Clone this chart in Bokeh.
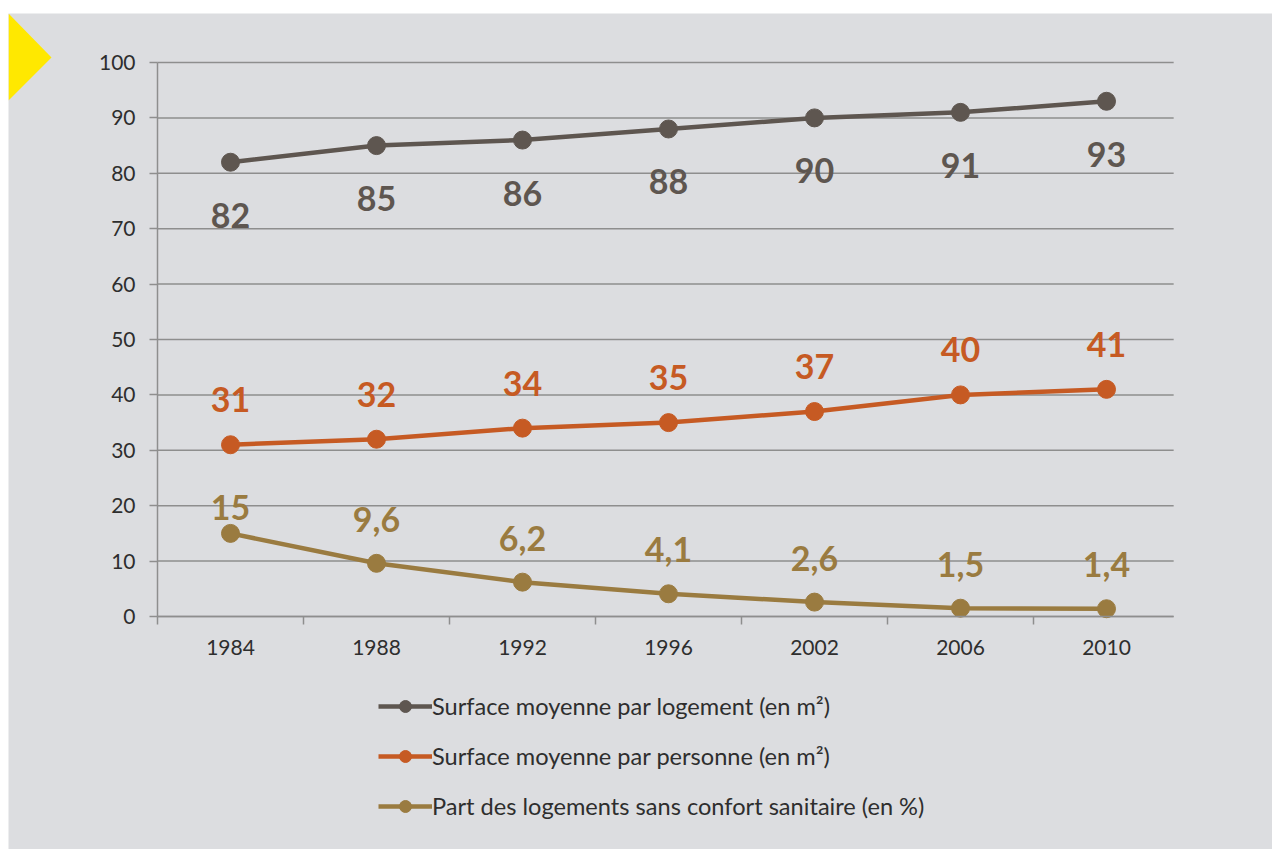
from bokeh.plotting import figure
from bokeh.models import (FixedTicker, Legend, LegendItem, PolyAnnotation, Spacer,
                          ColumnDataSource, Range1d)
from bokeh.layouts import column, row
from bokeh.core.properties import value
from bokeh.embed import file_html
from bokeh.resources import INLINE

years = ["1984", "1988", "1992", "1996", "2002", "2006", "2010"]
surface_logement = [82, 85, 86, 88, 90, 91, 93]
surface_personne = [31, 32, 34, 35, 37, 40, 41]
sans_confort = [15, 9.6, 6.2, 4.1, 2.6, 1.5, 1.4]
series_names = ["Surface moyenne par logement (en m²)",
                "Surface moyenne par personne (en m²)",
                "Part des logements sans confort sanitaire (en %)"]
y_ticks = list(range(0, 101, 10))

colors = ["#5e5650", "#c65a23", "#9a7b40"]
BG = "#dcdde0"
GRID = "#8e8e8e"
FONT = "Lato"
TXT = "#2e2e2e"

def fmt(v):
    return ("%g" % v).replace(".", ",")

# layout geometry (pixels inside the plot canvas)
W, H = 1264, 836
AX_LEFT_PX = 149      # x of first category boundary
CAT_PX = 146          # width of one category
Y100_PX = 49          # y (from top) of value 100
Y0_PX = 603           # y (from top) of value 0
PX_PER_UNIT = (Y0_PX - Y100_PX) / 100.0
n = len(years)
x_start = -AX_LEFT_PX / CAT_PX
x_end = (W - AX_LEFT_PX) / CAT_PX
y_end = 100 + Y100_PX / PX_PER_UNIT
y_start = -(H - Y0_PX) / PX_PER_UNIT
x_stop = n - 0.04     # right end of the plot area lines

xs = [i + 0.5 for i in range(n)]

p = figure(width=W, height=H, output_backend="svg", toolbar_location=None,
           x_range=Range1d(x_start, x_end), y_range=Range1d(y_start, y_end),
           min_border=0)
p.background_fill_color = BG
p.border_fill_color = BG
p.outline_line_color = None

# axes fixed inside the frame
p.xaxis.fixed_location = 0
p.xaxis.bounds = (0, x_stop)
p.xaxis.ticker = FixedTicker(ticks=xs, minor_ticks=list(range(n)))
p.xaxis.major_label_overrides = {x: y for x, y in zip(xs, years)}
p.xaxis.major_tick_out = 0
p.xaxis.major_tick_in = 0
p.xaxis.minor_tick_out = 8
p.xaxis.minor_tick_in = 0
p.xaxis.minor_tick_line_color = GRID
p.xaxis.minor_tick_line_width = 1.5
p.xaxis.axis_line_color = GRID
p.xaxis.axis_line_width = 1.5
p.xaxis.major_label_standoff = 15

p.yaxis.fixed_location = 0
p.yaxis.bounds = (0, 100)
p.yaxis.ticker = FixedTicker(ticks=y_ticks)
p.yaxis.major_tick_out = 8
p.yaxis.major_tick_in = 0
p.yaxis.minor_tick_line_color = None
p.yaxis.major_tick_line_color = GRID
p.yaxis.major_tick_line_width = 1.5
p.yaxis.axis_line_color = GRID
p.yaxis.axis_line_width = 1.5
p.yaxis.major_label_standoff = 14
for ax in (p.xaxis, p.yaxis):
    ax.major_label_text_font = FONT
    ax.major_label_text_font_size = "21px"
    ax.major_label_text_color = TXT

p.xgrid.grid_line_color = None
p.ygrid.grid_line_color = None

# horizontal gridlines limited to the plot area
p.segment(x0=[0] * len(y_ticks), x1=[x_stop] * len(y_ticks), y0=y_ticks, y1=y_ticks,
          line_color=GRID, line_width=1.5)

items = []
all_series = [surface_logement, surface_personne, sans_confort]
label_offsets = [[53] * n, [-45] * n, [-26] + [-44] * (n - 1)]
for vals, col, name, offs in zip(all_series, colors, series_names, label_offsets):
    src = ColumnDataSource(dict(x=xs, y=vals, t=[fmt(v) for v in vals], off=offs))
    r1 = p.line("x", "y", source=src, line_color=col, line_width=4.5)
    r2 = p.scatter("x", "y", source=src, size=18, fill_color=col, line_color=col)
    p.text("x", "y", text="t", source=src, y_offset="off", text_align="center",
           text_baseline="middle", text_color=col, text_font=value(FONT),
           text_font_size="34px", text_font_style="bold")
    items.append(LegendItem(label=name, renderers=[r1, r2]))

legend = Legend(items=items, location=(370, 28), orientation="vertical",
                glyph_width=54, glyph_height=30, label_height=30, spacing=20,
                label_standoff=0, padding=0, margin=0,
                background_fill_alpha=0, border_line_color=None,
                label_text_font=FONT, label_text_font_size="23.6px",
                label_text_color=TXT)
p.add_layout(legend, "center")

tri = PolyAnnotation(xs=[0, 43, 0], ys=[H, H - 44, H - 87],
                     xs_units="screen", ys_units="screen",
                     fill_color="#ffe800", fill_alpha=1, line_color=None)
p.add_layout(tri)

layout = row(Spacer(width=8, height=H + 13),
             column(Spacer(width=W, height=13), p, spacing=0), spacing=0)
open("out.html", "w").write(file_html(layout, INLINE))
